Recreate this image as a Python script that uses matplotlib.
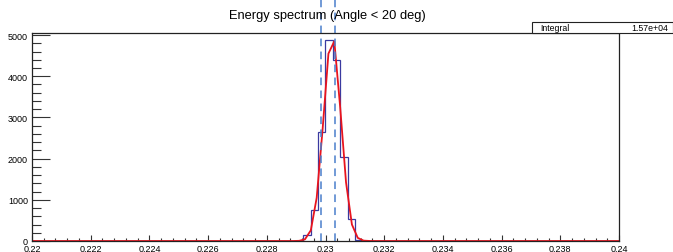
import matplotlib
matplotlib.use("Agg")
import matplotlib.pyplot as plt
from matplotlib.patches import Rectangle
from matplotlib.ticker import MultipleLocator
import numpy as np

plt.rcParams['font.family'] = ['Liberation Sans', 'DejaVu Sans']

# histogram: 80 bins over 0.22-0.24, only the peak bins are non-zero
x_lo, x_hi, n_bins = 0.22, 0.24, 80
peak_first_bin = 36
peak_counts = [0, 150, 760, 2650, 4870, 4400, 2050, 534, 30]

# fitted curve
fit_x = [0.22, 0.2285, 0.2287, 0.2289, 0.2291, 0.2293, 0.2295, 0.2297, 0.2299, 0.2301,
         0.2303, 0.2305, 0.2307, 0.2309, 0.2311, 0.2313, 0.2315, 0.2317, 0.24]
fit_y = [0, 0, 0, 0.3, 4, 40, 260, 1050, 2700, 4550,
         4850, 3250, 1420, 400, 75, 9, 1, 0, 0]

# dashed markers
marker_x = [0.22984, 0.23032]

title = "Energy spectrum (Angle < 20 deg)"
stat_name, stat_value = "Integral", "1.57e+04"

edges = np.linspace(x_lo, x_hi, n_bins + 1)
counts = np.zeros(n_bins)
counts[peak_first_bin:peak_first_bin + len(peak_counts)] = peak_counts

fig = plt.figure(figsize=(6.73, 2.53), dpi=100)
ax = fig.add_axes([32/673, 11/253, 587/673, 208/253])

ax.stairs(counts, edges, color='#3a3aa0', lw=0.9)
ax.plot(fit_x, fit_y, color='#e8141e', lw=1.3)
for mx in marker_x:
    ax.plot([mx, mx], [0, 1.16], color='#4a7fcc', lw=1.1, ls=(0, (5, 3.5)),
            transform=ax.get_xaxis_transform(), clip_on=False)

ax.set_xlim(x_lo, x_hi)
ax.set_ylim(0, 5050)
ax.xaxis.set_major_locator(MultipleLocator(0.002))
ax.xaxis.set_minor_locator(MultipleLocator(0.0004))
ax.yaxis.set_major_locator(MultipleLocator(1000))
ax.yaxis.set_minor_locator(MultipleLocator(200))
ax.set_xticklabels([f"{v:g}" for v in ax.get_xticks()])

ax.tick_params(axis='y', which='major', direction='in', length=13, width=0.8, labelsize=6.5, pad=3, color='#333333')
ax.tick_params(axis='y', which='minor', direction='in', length=6.5, width=0.8, color='#333333')
ax.tick_params(axis='x', which='major', direction='in', length=4.5, width=0.8, labelsize=6.5, pad=2.5, color='#333333')
ax.tick_params(axis='x', which='minor', direction='in', length=2.2, width=0.8, color='#333333')
for s in ax.spines.values():
    s.set_linewidth(0.9)
    s.set_color('#222222')

fig.text(0.486, 1 - 16/253, title, ha='center', va='center', fontsize=9.3)

# stats box
fig.patches.append(Rectangle((532/673, 1 - 34/253), 141/673, 11/253, transform=fig.transFigure,
                             facecolor='white', edgecolor='#222222', lw=0.8, zorder=5))
fig.text(540/673, 1 - 28.5/253, stat_name, ha='left', va='center', fontsize=6.3, zorder=6)
fig.text(668/673, 1 - 28.5/253, stat_value, ha='right', va='center', fontsize=6.3, zorder=6)

fig.savefig("out.png", dpi=100)
